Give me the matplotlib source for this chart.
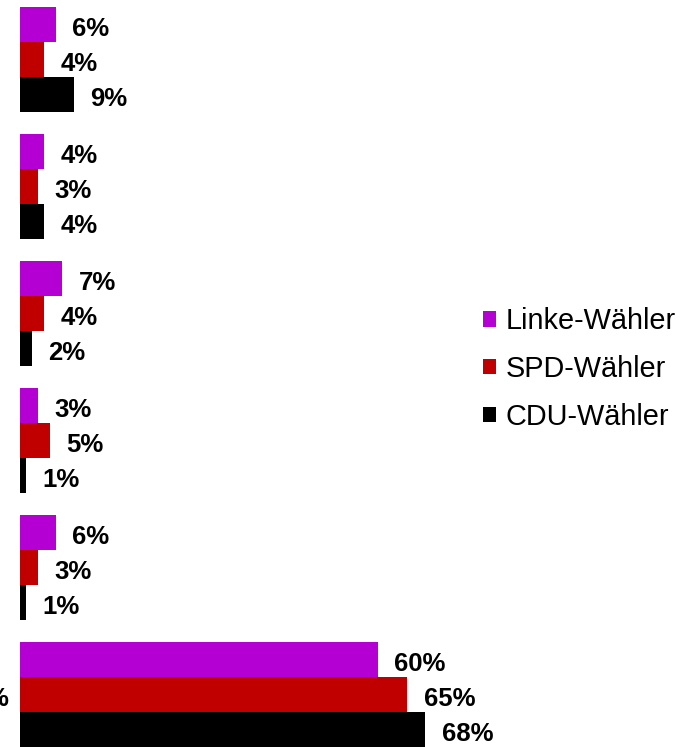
import matplotlib
matplotlib.use("Agg")
import matplotlib.pyplot as plt
from matplotlib.patches import Patch
import numpy as np

plt.rcParams['font.family'] = ['Liberation Sans', 'DejaVu Sans']

series = ["Linke-Wähler", "SPD-Wähler", "CDU-Wähler"]
colors = ["#B400D2", "#C00000", "#000000"]
linke = [6, 4, 7, 3, 6, 60]
spd = [4, 3, 4, 5, 3, 65]
cdu = [9, 4, 2, 1, 1, 68]
values = [linke, spd, cdu]

W, H = 691, 747
fig = plt.figure(figsize=(W / 100, H / 100), dpi=100)
ax = fig.add_axes([20 / W, 0, 440 / W, 1])
ax.set_xlim(0, 440 / 5.96)
ax.set_ylim(5.4134, -0.4685)
ax.axis('off')

n = len(linke)
groups = np.arange(n)
bh = 35 / 127
for k, (vals, col) in enumerate(zip(values, colors)):
    ypos = groups + (k - 1) * bh
    ax.barh(ypos, vals, height=bh, color=col, label=series[k])
    for y, v in zip(ypos, vals):
        ax.annotate(f"{v}%", (v, y), xytext=(12, -1.5), textcoords='offset points',
                    ha='left', va='center_baseline', fontsize=18.5, fontweight='bold',
                    color='black')

fig.text(8 / W, 1 - 696 / H, "%", ha='right', va='center_baseline', fontsize=18.5,
         fontweight='bold')

handles = [Patch(facecolor=c, edgecolor='none') for c in colors]
fig.legend(handles, series, loc='center left', bbox_to_anchor=(483 / W, 1 - 369 / H),
           frameon=False, fontsize=20.8, handlelength=0.45, handleheight=0.45,
           handletextpad=0.33, labelspacing=0.68, borderpad=0, borderaxespad=0)

fig.savefig("out.png", dpi=100)
